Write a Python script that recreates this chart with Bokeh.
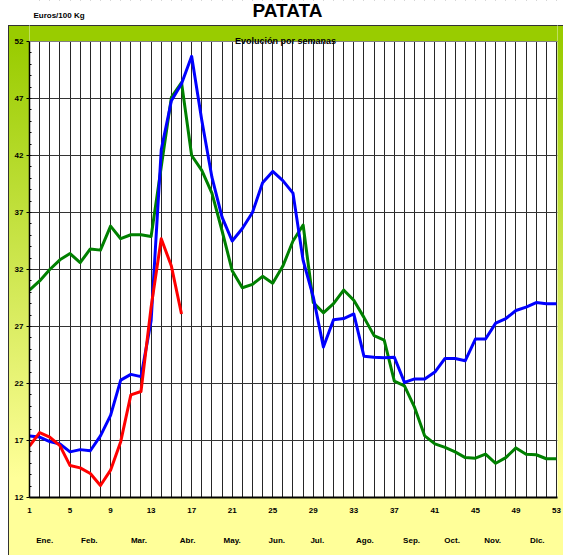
from bokeh.plotting import figure
from bokeh.models import FixedTicker, LinearAxis, Range1d, Label, BoxAnnotation, Span
from bokeh.embed import file_html
from bokeh.resources import INLINE

# ---- data ----
weeks = list(range(1, 54))
blue_vals = [17.4, 17.3, 16.9, 16.7, 16.0, 16.2, 16.1, 17.4, 19.2, 22.3,
             22.8, 22.6, 27.5, 42.5, 46.8, 48.3, 50.7, 45.1, 40.1, 36.6,
             34.5, 35.6, 37.0, 39.6, 40.6, 39.8, 38.7, 32.8, 29.6, 25.2,
             27.6, 27.7, 28.1, 24.4, 24.3, 24.25, 24.3, 22.1, 22.4, 22.4,
             23.0, 24.2, 24.2, 24.0, 25.9, 25.9, 27.3, 27.7, 28.4, 28.7,
             29.1, 29.0, 29.0]
green_vals = [30.2, 31.0, 32.0, 32.85, 33.4, 32.6, 33.8, 33.7, 35.8, 34.7,
              35.05, 35.05, 34.9, 41.0, 47.1, 48.4, 42.0, 40.7, 38.7, 35.4,
              31.9, 30.4, 30.7, 31.4, 30.8, 32.3, 34.5, 35.9, 29.1, 28.2,
              29.0, 30.2, 29.3, 27.8, 26.2, 25.8, 22.2, 21.8, 19.9, 17.4,
              16.7, 16.4, 16.0, 15.5, 15.45, 15.8, 15.0, 15.5, 16.35, 15.8,
              15.75, 15.4, 15.4]
red_weeks = list(range(1, 17))
red_vals = [16.5, 17.7, 17.3, 16.55, 14.8, 14.6, 14.1, 13.05, 14.4, 16.9,
            21.0, 21.3, 28.7, 34.7, 32.3, 28.1]

x_ticks = list(range(1, 54, 4))
y_ticks = list(range(12, 53, 5))
months = ["Ene.", "Feb.", "Mar.", "Abr.", "May.", "Jun.",
          "Jul.", "Ago.", "Sep.", "Oct.", "Nov.", "Dic."]
month_ticks = [2.5, 6.9, 11.8, 16.6, 21.0, 25.4, 29.4, 34.1, 38.7, 42.7, 46.7, 51.1]

FONT = "Liberation Sans"
Y_MIN, Y_MAX = 12, 52
PX_PER_UNIT = 11.4          # vertical scale of the plot area
TOP_PAD = 41 / PX_PER_UNIT  # header band (title + green strip) above the value 52
BAND = 16 / PX_PER_UNIT     # height of the green strip

p = figure(width=563, height=555, output_backend="svg", toolbar_location=None,
           x_range=Range1d(1, 53.1), y_range=Range1d(Y_MIN, Y_MAX + TOP_PAD),
           min_border_left=29, min_border_right=6, min_border_top=0,
           min_border_bottom=58)
p.border_fill_color = None
p.background_fill_color = "white"
p.outline_line_color = None
p.styles = {
    "background": (
        "linear-gradient(#ffffff,#ffffff) 0 0 / 8px 100% no-repeat, "
        "linear-gradient(#333,#333) 8px 25px / 100% 1px no-repeat, "
        "linear-gradient(#333,#333) 8px 25px / 1px 100% no-repeat, "
        "linear-gradient(to bottom, #ffffff 0px, #ffffff 25px, #99cc00 25px, "
        "#99cc00 41px, #ffff99 478px, #ffff99 100%)"
    )
}

# grids
p.xgrid.ticker = FixedTicker(ticks=weeks)
p.xgrid.grid_line_color = "#000000"
p.xgrid.grid_line_alpha = 0.85
p.xgrid.grid_line_width = 1
p.ygrid.ticker = FixedTicker(ticks=y_ticks)
p.ygrid.grid_line_color = "#333333"
p.ygrid.grid_line_width = 1

# header band inside the frame (covers grid above the value 52)
p.add_layout(BoxAnnotation(bottom=Y_MAX, top=Y_MAX + BAND, fill_color="#99cc00",
                           fill_alpha=1, line_color=None, level="annotation"))
p.add_layout(BoxAnnotation(bottom=Y_MAX + BAND, fill_color="white", fill_alpha=1,
                           line_color=None, level="annotation"))
p.add_layout(Span(location=Y_MAX + BAND, dimension="width", line_color="#333333",
                  line_width=1))
p.add_layout(Span(location=Y_MAX, dimension="width", line_color="#808080",
                  line_width=1))

# y axis
ya = p.yaxis[0]
ya.ticker = FixedTicker(ticks=y_ticks, minor_ticks=list(range(12, 53)))
ya.bounds = (Y_MIN, Y_MAX)
ya.axis_line_color = "black"
ya.axis_line_width = 1.5
ya.major_tick_out = 3
ya.major_tick_in = 0
ya.minor_tick_in = 2
ya.minor_tick_out = 0
ya.major_label_standoff = 3
ya.major_label_text_font = FONT
ya.major_label_text_font_style = "bold"
ya.major_label_text_font_size = "8px"
ya.major_label_text_color = "black"

# x axis (weeks)
xa = p.xaxis[0]
xa.ticker = FixedTicker(ticks=x_ticks)
xa.axis_line_color = "black"
xa.axis_line_width = 2
xa.major_tick_out = 0
xa.major_tick_in = 0
xa.minor_tick_line_color = None
xa.major_label_standoff = 10
xa.major_label_text_font = FONT
xa.major_label_text_font_style = "bold"
xa.major_label_text_font_size = "8px"
xa.major_label_text_color = "black"

# month axis
ma = LinearAxis(ticker=FixedTicker(ticks=month_ticks),
                major_label_overrides={t: m for t, m in zip(month_ticks, months)})
ma.axis_line_color = None
ma.major_tick_line_color = None
ma.minor_tick_line_color = None
ma.major_label_standoff = 14
ma.major_label_text_font = FONT
ma.major_label_text_font_style = "bold"
ma.major_label_text_font_size = "8px"
ma.major_label_text_color = "black"
p.add_layout(ma, "below")

# series
p.line(weeks, green_vals, line_color="#008000", line_width=3, line_join="round")
p.line(weeks, blue_vals, line_color="#0000ff", line_width=3, line_join="round")
p.line(red_weeks, red_vals, line_color="#ff0000", line_width=3, line_join="round")

# texts
p.add_layout(Label(x=26.46, y=Y_MAX + 31 / PX_PER_UNIT, text="PATATA", text_align="center",
                   text_baseline="middle", text_font=FONT, text_font_style="bold",
                   text_font_size="19px", text_color="black"))
p.add_layout(Label(x=1.39, y=Y_MAX + 26 / PX_PER_UNIT, text="Euros/100 Kg", text_align="left",
                   text_baseline="middle", text_font=FONT, text_font_style="bold",
                   text_font_size="8px", text_color="black"))
p.add_layout(Label(x=26.26, y=Y_MAX + 1 / PX_PER_UNIT, text="Evolución por semanas",
                   text_align="center", text_baseline="middle", text_font=FONT,
                   text_font_style="bold", text_font_size="9px", text_color="black"))

open("out.html", "w").write(file_html(p, INLINE))
